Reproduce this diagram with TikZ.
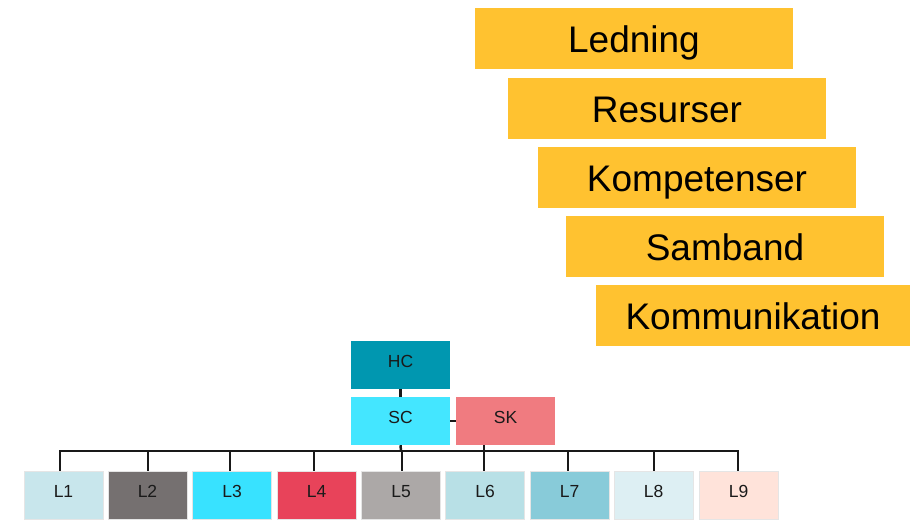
\documentclass[tikz,border=0pt]{standalone}
\usepackage{fontspec}
\setmainfont{Liberation Sans}
\definecolor{ybox}{HTML}{FFC230}
\definecolor{hc}{HTML}{0097B0}
\definecolor{sc}{HTML}{44E6FF}
\definecolor{sk}{HTML}{F07B80}
\definecolor{cA}{HTML}{C8E6EC}
\definecolor{cB}{HTML}{757070}
\definecolor{cC}{HTML}{38E2FF}
\definecolor{cD}{HTML}{E8435A}
\definecolor{cE}{HTML}{ACA8A7}
\definecolor{cF}{HTML}{B8E0E6}
\definecolor{cG}{HTML}{88CBD9}
\definecolor{cH}{HTML}{DDEFF3}
\definecolor{cI}{HTML}{FFE3DA}
\definecolor{txt}{HTML}{1A1A1A}
\begin{document}
\begin{tikzpicture}[x=1pt,y=-1pt,
  ybx/.style={fill=ybox,draw=none,minimum width=318pt,minimum height=61pt,inner sep=0pt,
    font=\fontsize{37}{40}\selectfont,text=black,text height=28.5pt,text depth=0pt},
  orgbox/.style={draw=none,minimum width=99pt,minimum height=48pt,inner sep=0pt,
    font=\fontsize{17.5}{19}\selectfont,text=txt,text height=12.5pt,text depth=7pt},
  lbox/.style={draw=white!90!black,line width=0.6pt,minimum width=79pt,minimum height=48pt,inner sep=0pt,
    font=\fontsize{17.5}{19}\selectfont,text=txt,text height=12.5pt,text depth=8pt},
  conn/.style={line width=2.5pt,draw=black!90}]
\useasboundingbox (0,0) rectangle (910,520);
% yellow boxes
\node[ybx] (led) at (634,38.5) {Ledning};
\node[ybx] (res) at (667,108) {Resurser};
\node[ybx] (kom) at (697,177.5) {Kompetenser};
\node[ybx] (sam) at (725,246.5) {Samband};
\node[ybx,minimum width=314pt] (kmk) at (753,315) {Kommunikation};
% org chart
\node[orgbox,fill=hc] (HC) at (400.5,365) {HC};
\node[orgbox,fill=sc] (SC) at (400.5,421) {SC};
\node[orgbox,fill=sk] (SK) at (505.5,421) {SK};
\foreach \n/\x/\c in {1/63.5/cA,2/147.5/cB,3/232/cC,4/316.5/cD,5/401/cE,6/485/cF,7/569.5/cG,8/653.5/cH,9/738.5/cI}
  \node[lbox,fill=\c] (L\n) at (\x,495) {L\n};
\coordinate (bus) at (401,451);
\draw[conn] (HC.south) -- (SC.north);
\draw[conn] (SC.east) -- (SK.west);
\draw[conn] (SC.south) -- (bus);
\draw[conn] (SK.south -| 484,0) -- (484,451);
\draw[conn] (L1.north -| 60,0) |- (bus) -| (L9.north -| 738,0);
\foreach \n/\x in {2/148,3/230,4/314,5/402,6/484,7/568,8/654}
  \draw[conn] (\x,451) -- (L\n.north -| \x,0);
\end{tikzpicture}
\end{document}
